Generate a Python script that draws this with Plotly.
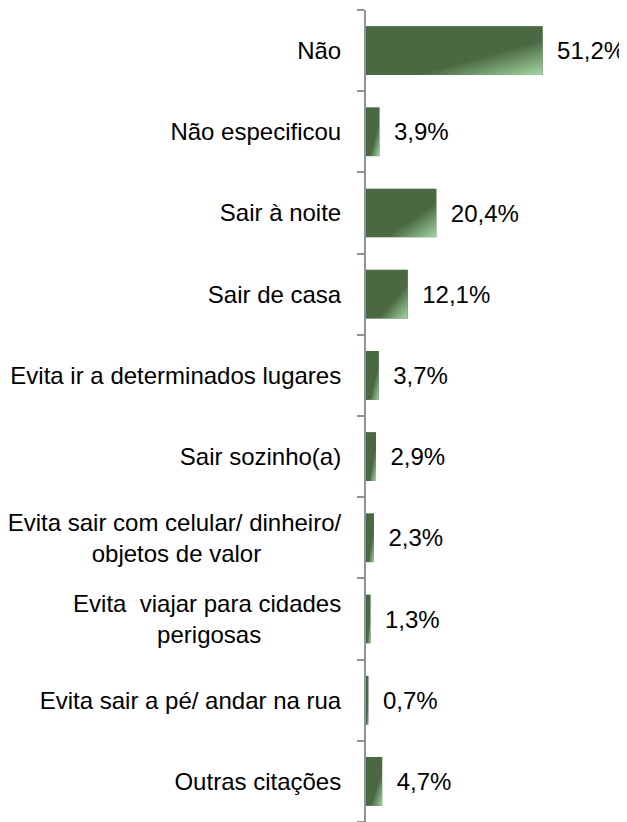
import base64
import plotly.graph_objects as go

categories = [
    "Não",
    "Não especificou",
    "Sair à noite",
    "Sair de casa",
    "Evita ir a determinados lugares",
    "Sair sozinho(a)",
    "Evita sair com celular/ dinheiro/<br>objetos de valor" + "\u00a0" * 12,
    "Evita\u00a0 viajar para cidades<br>perigosas" + "\u00a0" * 12,
    "Evita sair a pé/ andar na rua",
    "Outras citações",
]
values = [51.2, 3.9, 20.4, 12.1, 3.7, 2.9, 2.3, 1.3, 0.7, 4.7]

DARK = "#4a6842"
LIGHT = "#a3d8a3"
FONT = "Liberation Sans, Arial, sans-serif"

positions = list(range(len(values)))
labels = ["\u00a0\u2009" + f"{v:.1f}".replace(".", ",") + "%" for v in values]

svg = (
    '<svg xmlns="http://www.w3.org/2000/svg" width="100" height="100" '
    'viewBox="0 0 100 100" preserveAspectRatio="none">'
    '<defs><linearGradient id="g" x1="0" y1="0" x2="1" y2="1">'
    f'<stop offset="0" stop-color="{DARK}"/>'
    f'<stop offset="0.64" stop-color="{DARK}"/>'
    f'<stop offset="1" stop-color="{LIGHT}"/>'
    '</linearGradient></defs>'
    '<rect x="0" y="0" width="100" height="100" fill="url(#g)"/></svg>'
)
src = "data:image/svg+xml;base64," + base64.b64encode(svg.encode()).decode()

fig = go.Figure(
    go.Bar(
        x=values,
        y=positions,
        orientation="h",
        width=0.6,
        marker=dict(color=DARK, line=dict(width=0)),
        text=labels,
        textposition="outside",
        textfont=dict(family=FONT, size=24, color="#000000"),
        cliponaxis=False,
        constraintext="none",
        hoverinfo="skip",
    )
)

images = [
    dict(
        source=src,
        xref="x",
        yref="y",
        x=0,
        y=p,
        sizex=v,
        sizey=0.6,
        xanchor="left",
        yanchor="middle",
        sizing="stretch",
        layer="above",
    )
    for p, v in zip(positions, values)
]

fig.update_layout(
    width=619,
    height=814,
    margin=dict(l=356, r=54, t=2, b=0),
    paper_bgcolor="white",
    plot_bgcolor="white",
    showlegend=False,
    images=images,
    font=dict(family=FONT, size=24, color="#000000"),
    xaxis=dict(
        range=[0, 60],
        visible=False,
        showgrid=False,
        zeroline=False,
    ),
    yaxis=dict(
        range=[len(values) - 0.5, -0.5],
        tickmode="array",
        tickvals=positions,
        ticktext=categories,
        ticks="",
        ticklabelstandoff=18,
        tickfont=dict(family=FONT, size=24, color="#000000"),
        showgrid=False,
        zeroline=False,
        showline=True,
        linecolor="#8c959e",
        linewidth=2,
        minor=dict(
            tickmode="linear",
            tick0=-0.5,
            dtick=1,
            ticks="outside",
            ticklen=7,
            tickwidth=2,
            tickcolor="#8c959e",
            showgrid=False,
        ),
    ),
)

fig.write_html("out.html")
